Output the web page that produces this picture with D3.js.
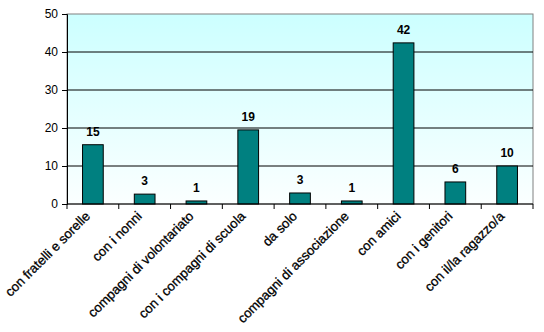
<!DOCTYPE html>
<html>
<head>
<meta charset="utf-8">
<script src="https://cdn.jsdelivr.net/npm/d3@7"></script>
<style>
  body { margin: 0; background: #fff; }
  text { font-family: "Liberation Sans", Arial, sans-serif; }
</style>
</head>
<body>
<div id="chart"></div>
<script>
var categories = ["con fratelli e sorelle", "con i nonni", "compagni di volontariato",
  "con i compagni di scuola", "da solo", "compagni di associazione",
  "con amici", "con i genitori", "con il/la ragazzo/a"];
var values = [15.6, 2.6, 0.8, 19.5, 2.9, 0.8, 42.4, 5.8, 10];
var valueLabels = ["15", "3", "1", "19", "3", "1", "42", "6", "10"];
var yTicks = [0, 10, 20, 30, 40, 50];

var W = 544, H = 332;
var m = {top: 14, left: 67, right: 11, bottom: 128}; // margins
var w = W - m.left - m.right;
var h = H - m.top - m.bottom;

var svg = d3.select("#chart").append("svg")
  .attr("width", W)
  .attr("height", H);

var grad = svg.append("defs").append("linearGradient")
  .attr("id", "bg").attr("x1", 0).attr("y1", 0).attr("x2", 0).attr("y2", 1);
grad.append("stop").attr("offset", "0%").attr("stop-color", "#ccffff");
grad.append("stop").attr("offset", "100%").attr("stop-color", "#fbffff");

var g = svg.append("g").attr("transform", "translate(" + m.left + "," + m.top + ")");

var x = d3.scaleBand().domain(categories).range([0, w]).paddingInner(0.6).paddingOuter(0.3);
var xb = d3.scaleBand().domain(categories).range([0, w]);
var y = d3.scaleLinear().domain([0, 50]).range([h, 0]);

g.append("rect")
  .attr("width", w).attr("height", h)
  .attr("fill", "url(#bg)")
  .attr("stroke", "#808080");

// grid lines
g.selectAll(".grid").data(yTicks.slice(1, -1)).enter().append("line")
  .attr("x1", 0).attr("x2", w)
  .attr("y1", function(d) { return y(d); })
  .attr("y2", function(d) { return y(d); })
  .attr("stroke", "#000").attr("stroke-width", 1);

g.selectAll(".bar").data(values).enter().append("rect")
  .attr("x", function(d, i) { return x(categories[i]); })
  .attr("width", x.bandwidth())
  .attr("y", function(d) { return y(d); })
  .attr("height", function(d) { return h - y(d); })
  .attr("fill", "#008080")
  .attr("stroke", "#000").attr("stroke-width", 1);

g.selectAll(".vlab").data(values).enter().append("text")
  .attr("x", function(d, i) { return x(categories[i]) + x.bandwidth() / 2; })
  .attr("y", function(d) { return y(d) - 9; })
  .attr("text-anchor", "middle")
  .attr("font-size", 12).attr("font-weight", "bold")
  .text(function(d, i) { return valueLabels[i]; });

// y axis
var yAxis = d3.axisLeft(y).tickValues(yTicks).tickSize(5).tickPadding(4);
var ya = g.append("g").call(yAxis);
ya.select(".domain").attr("stroke", "#000");
ya.selectAll("text").attr("font-size", 12).attr("font-family", "Liberation Sans, Arial, sans-serif").attr("fill", "#000");

// x axis: ticks at category boundaries
var bounds = categories.map(function(c) { return xb(c); }).concat([w]);
var xa = g.append("g").attr("transform", "translate(0," + h + ")");
xa.append("line").attr("x1", 0).attr("x2", w).attr("stroke", "#000");
xa.selectAll(".tk").data(bounds).enter().append("line")
  .attr("x1", function(d) { return d; }).attr("x2", function(d) { return d; })
  .attr("y1", 0).attr("y2", 5).attr("stroke", "#000");

xa.selectAll(".clab").data(categories).enter().append("text")
  .attr("transform", function(d) {
    return "translate(" + (xb(d) + xb.bandwidth() / 2 - 2) + ",13) rotate(-45)";
  })
  .attr("text-anchor", "end")
  .attr("font-size", 13.2).attr("fill", "#000")
  .attr("stroke", "#000").attr("stroke-width", 0.3)
  .text(function(d) { return d; });
</script>
</body>
</html>
